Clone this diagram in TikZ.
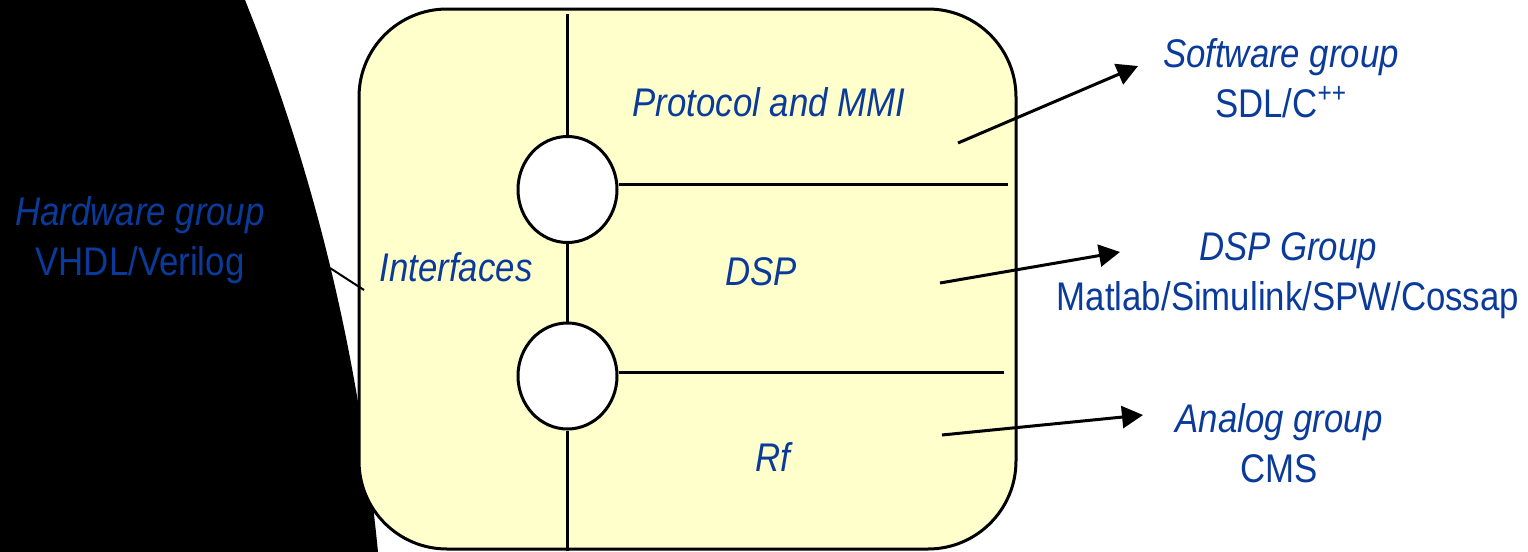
\documentclass[tikz,border=0pt]{standalone}
\usepackage{fontspec}
\setmainfont{Liberation Sans}[FakeStretch=0.87]
\usepackage{xcolor}
\usepackage{tikz}
\usetikzlibrary{arrows.meta,positioning,shapes.geometric}
\definecolor{labelblue}{HTML}{0A3A9A}
\definecolor{boardyellow}{HTML}{FFFFCC}

\begin{document}
\begin{tikzpicture}[
    x=0.5pt, y=-0.5pt,
    font=\fontsize{20}{25}\selectfont,
    board/.style={
        draw=black,
        line width=1.5pt,
        rounded corners=44pt,
        fill=boardyellow,
        minimum width=328.5pt,
        minimum height=270pt,
        inner sep=0pt
    },
    port/.style={
        ellipse,
        draw=black,
        line width=1.5pt,
        fill=white,
        minimum width=49.5pt,
        minimum height=53pt,
        inner sep=0pt
    },
    part/.style={
        text=labelblue,
        font=\fontsize{20}{25}\selectfont\itshape,
        inner sep=0pt
    },
    group/.style={
        text=labelblue,
        align=center,
        inner sep=0pt
    },
    wire/.style={draw=black, line width=1.5pt},
    arrow/.style={-{Triangle[length=10.5pt, width=11pt]}, line width=1.5pt, draw=black}
]
\useasboundingbox (0,0) rectangle (1528,552);
\fill[black] (0,0) -- (245,0) .. controls (319,184) and (360,368) .. (378,552) -- (0,552) -- cycle;

\node[board] (board) at (687.5,279) {};
\node[port] (upperport) at (567.5,189.5) {};
\node[port] (lowerport) at (567.5,376) {};

\coordinate (boardtop) at (567.5,14);
\coordinate (boardbottom) at (567.5,551);
\coordinate (protocolcut) at (1008,184);
\coordinate (rfcut) at (1004,372);

\draw[wire] (boardtop) -- (upperport.north);
\draw[wire] (upperport.south) -- (lowerport.north);
\draw[wire] (lowerport.south) -- (boardbottom);
\draw[wire] (upperport.east |- protocolcut) -- (protocolcut);
\draw[wire] (lowerport.east |- rfcut) -- (rfcut);

\node[part] (protocol) at (769,102.5) {Protocol and MMI};
\node[part] (dsp) at (761,272) {DSP};
\node[part] (rf) at (773,457) {Rf};
\node[part] (interfaces) at (456,267.5) {Interfaces};

\node[group] (hardware) at (140,240) {\textit{Hardware group}\\VHDL/Verilog};
\node[group] (software) at (1281,78) {\textit{Software group}\\SDL/C\textsuperscript{++}};
\node[group] (dspgroup) at (1288,276) {\textit{DSP Group}\\Matlab/Simulink/SPW/Cossap};
\node[group] (analog) at (1279,443) {\textit{Analog group}\\CMS};

\coordinate (hardwareend) at (330,268);
\coordinate (interfacesend) at (364,290);
\coordinate (protocolfrom) at (958,143);
\coordinate (softwareto) at (1138,66);
\coordinate (dspfrom) at (940,283);
\coordinate (dspgroupto) at (1120,252);
\coordinate (rffrom) at (942,435);
\coordinate (analogto) at (1143,415);

\draw[line width=1pt] (hardwareend) -- (interfacesend);
\draw[arrow] (protocolfrom) -- (softwareto);
\draw[arrow] (dspfrom) -- (dspgroupto);
\draw[arrow] (rffrom) -- (analogto);
\end{tikzpicture}
\end{document}
